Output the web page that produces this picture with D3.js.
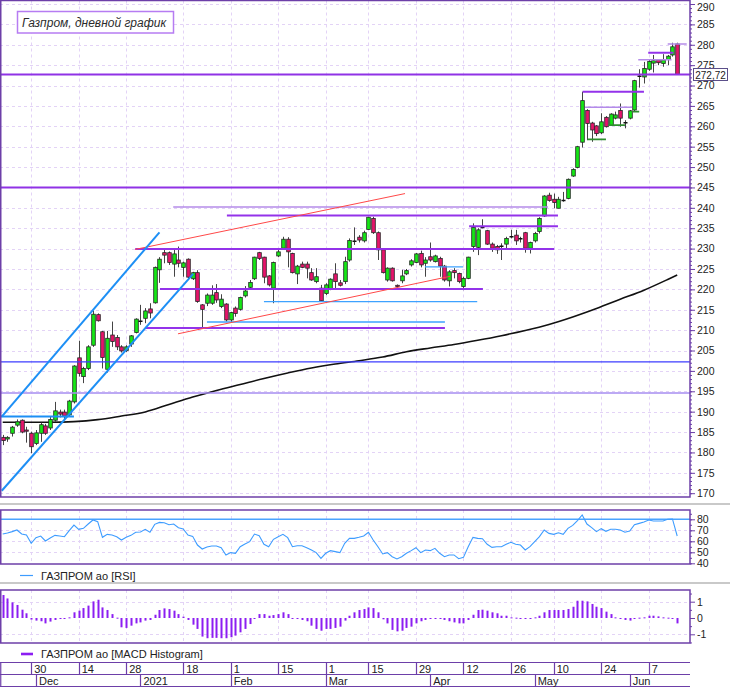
<!DOCTYPE html>
<html>
<head>
<meta charset="utf-8">
<script src="https://cdn.jsdelivr.net/npm/d3@7"></script>
<style>
body { margin: 0; background: #fff; }
svg { display: block; font-family: "Liberation Sans", Arial, sans-serif; font-size: 11px; }
</style>
</head>
<body>
<div id="chart"></div>
<script>
// --- data (one entry per trading day) ---
const opens = [183.7,183.3,184.7,186.7,187.9,185.5,184.7,182.2,184.7,186.5, 186.0,187.9,189.9,189.9,189.2,192.4,203.2,198.6,200.6,206.3,
  213.8,209.6,200.4,208.8,208.2,205.9,205.0,206.6,209.4,212.3, 212.9,215.2,216.7,224.8,229.0,229.0,226.2,227.2,225.4,227.4,
  222.6,224.1,216.2,216.6,216.6,219.2,215.8,216.4,212.5,215.4, 215.1,218.4,220.5,222.6,229.0,227.9,223.3,220.3,228.2,230.1,
  232.3,228.8,223.8,226.2,226.2,224.1,221.9,220.3,219.0,220.0, 223.8,221.6,221.9,227.2,231.9,232.8,231.9,234.7,237.4,233.9,
  229.7,222.3,225.2,221.0,222.1,223.8,226.0,226.6,228.8,226.4, 228.0,226.8,227.6,225.7,222.1,224.6,223.9,220.7,222.7,230.5,
  230.3,235.3,234.4,231.1,230.5,230.7,231.1,232.9,233.3,232.5, 233.9,230.1,231.9,234.2,238.0,243.1,242.1,239.9,241.7,242.3,
  247.8,249.9,256.1,263.9,260.8,260.1,258.4,262.2,260.2,262.0, 263.9,261.0,262.0,264.0,272.4,272.1,274.0,275.5,276.3,275.4,
  276.4,277.5,280.2]
const highs = [184.3,184.0,186.5,188.1,188.1,186.3,185.1,185.5,187.3,187.0, 188.8,192.4,190.5,190.5,192.9,201.4,207.4,201.0,206.3,214.8,
  214.1,209.8,209.8,212.1,208.8,206.3,206.3,208.8,212.9,216.2, 215.4,216.6,225.6,227.9,229.7,229.3,230.1,230.5,226.8,227.6,
  224.3,224.7,216.4,219.0,221.0,221.3,218.8,216.6,214.5,215.8, 218.2,220.8,222.3,228.0,229.2,228.0,223.5,226.8,229.7,232.9,
  232.8,229.0,226.0,226.8,226.8,225.2,225.2,221.1,221.5,222.7, 226.4,222.3,228.0,232.5,235.2,233.3,234.4,237.8,237.8,234.2,
  230.1,225.4,225.4,221.2,224.8,225.0,227.4,228.9,229.5,227.9, 231.5,228.5,228.0,226.0,224.7,225.2,224.1,223.1,228.0,236.2,
  235.0,237.2,234.6,231.5,230.9,231.3,232.9,234.6,234.6,232.9, 234.1,231.7,234.1,237.7,243.1,243.7,243.5,242.7,243.9,247.2,
  249.7,255.2,268.5,264.2,261.1,260.3,263.2,262.5,263.2,263.6, 265.6,261.5,264.0,271.4,274.0,275.8,276.4,277.5,276.4,277.7,
  277.5,280.5,280.5]
const lows = [181.8,182.6,183.9,186.3,184.7,182.4,179.8,181.8,182.6,184.3, 185.5,187.5,188.6,188.2,188.8,192.0,198.6,197.0,200.2,205.9,
  212.1,200.6,199.6,205.9,205.1,204.5,204.6,205.9,209.2,211.3, 211.7,212.9,216.5,221.6,226.4,226.0,223.1,225.4,223.1,222.3,
  222.3,216.7,210.4,215.9,216.2,216.7,215.4,212.1,211.8,213.3, 214.8,218.0,220.2,222.3,227.2,221.5,220.7,216.6,227.9,229.7,
  225.4,223.9,221.3,225.2,222.7,222.1,221.5,217.0,218.6,219.8, 220.3,220.7,221.3,226.8,230.9,231.5,231.5,234.6,233.6,227.2,
  223.9,221.9,221.9,220.4,221.5,223.5,225.6,226.4,225.4,223.1, 226.8,226.6,223.1,221.9,220.7,222.7,221.5,219.8,222.5,229.2,
  228.4,235.0,230.9,229.2,228.7,227.2,230.1,232.5,230.9,231.5, 229.0,228.8,231.5,233.7,237.8,241.5,239.9,239.9,241.5,242.1,
  247.6,249.7,254.8,256.6,256.2,257.6,258.1,259.7,260.1,261.7, 259.9,259.5,261.7,263.6,269.5,270.5,273.6,273.2,275.0,274.6,
  275.0,277.1,272.7]
const closes = [182.9,183.7,186.2,187.5,185.0,185.2,181.4,184.8,186.8,184.7, 188.1,190.2,189.4,188.9,192.6,201.2,199.4,200.6,205.9,213.9,
  212.3,203.3,208.0,207.2,205.9,204.9,205.9,208.6,212.7,212.2, 214.7,214.2,225.4,227.4,228.4,226.6,228.7,226.4,226.5,223.0,
  224.1,217.0,215.1,218.6,218.6,217.4,217.6,212.5,214.3,214.1, 218.0,219.6,221.7,227.9,227.6,223.0,221.1,226.6,229.2,232.3,
  229.2,224.1,225.7,225.4,225.2,222.3,223.1,217.2,221.1,222.5, 221.9,221.0,226.8,232.0,231.8,232.1,233.9,237.7,233.9,229.7,
  224.1,225.2,222.1,220.7,223.3,224.6,227.0,228.7,226.0,227.2, 227.2,228.2,225.7,222.3,224.3,224.1,221.9,222.7,227.9,235.2,
  234.6,235.2,231.1,230.1,229.7,230.6,232.5,232.9,231.9,232.4, 230.1,231.5,233.7,237.4,242.9,241.8,241.3,242.1,241.8,247.0,
  249.4,255.0,266.3,260.7,259.1,258.2,261.1,259.9,263.0,262.8, 262.0,260.9,263.8,271.2,272.3,274.2,275.9,276.1,275.6,276.3,
  277.2,279.5,272.72]

const rsi = [66.6,67.6,68.8,70.3,66.6,65.7,58.2,63.3,64.8,60.3, 63.0,65.4,64.8,64.2,69.7,74.8,70.9,71.8,75.7,79.4,
  77.9,63.6,66.3,65.7,64.2,61.2,63.6,65.4,68.2,68.5, 70.9,68.2,75.4,77.2,76.9,75.1,75.7,72.4,71.2,65.7,
  64.5,56.6,53.0,54.8,55.7,55.7,54.2,47.6,49.7,49.1, 55.1,57.6,59.7,66.6,65.1,57.3,55.1,61.8,64.2,66.3,
  63.3,55.1,56.0,56.0,54.2,52.1,49.7,44.5,49.1,51.5, 50.6,49.7,58.2,62.7,62.7,63.6,64.8,68.2,61.2,55.1,
  48.5,49.7,46.0,43.9,46.0,49.1,51.5,54.2,49.7,52.1, 51.5,53.6,49.1,46.0,47.6,47.6,44.2,45.4,55.1,63.6,
  62.7,62.4,57.3,54.5,55.1,55.1,57.3,59.1,57.3,56.6, 52.1,55.1,59.7,64.2,70.3,67.2,66.3,67.8,66.3,71.8,
  74.5,78.8,83.9,75.7,72.4,68.8,71.5,69.1,70.9,70.9, 70.3,68.2,69.4,75.1,76.3,77.5,79.4,78.5,78.5,78.5,
  80.0,80.3,64.8]
const macdHist = [1.41,1.2,0.96,0.8,0.51,0.29,-0.1,-0.16,-0.2,-0.33, -0.22,-0.12,-0.06,-0.06,0.04,0.35,0.45,0.61,0.76,1.02,
  1.12,0.65,0.49,0.24,0.02,-0.57,-0.61,-0.47,-0.33,-0.27, -0.16,-0.12,0.2,0.49,0.59,0.55,0.45,0.24,0.08,-0.12,
  -0.41,-0.67,-1.14,-1.24,-1.22,-1.22,-1.24,-1.24,-1.18,-1.08, -0.88,-0.67,-0.37,-0.06,0.24,0.24,0.14,0.18,0.24,0.35,
  0.24,-0.02,-0.06,-0.12,-0.2,-0.47,-0.67,-0.78,-0.67,-0.67, -0.61,-0.53,-0.16,0.14,0.35,0.49,0.55,0.65,0.61,0.35,
  -0.08,-0.33,-0.73,-0.82,-0.78,-0.61,-0.53,-0.33,-0.2,-0.12, -0.06,-0.01,-0.04,-0.12,-0.2,-0.27,-0.33,-0.33,-0.12,0.2,
  0.49,0.51,0.45,0.35,0.29,0.14,0.14,0.04,0.02,-0.04, -0.06,-0.04,0.04,0.14,0.35,0.49,0.49,0.49,0.49,0.55,
  0.69,1.06,1.06,1.02,0.86,0.69,0.61,0.39,0.24,0.04, -0.06,-0.12,-0.16,-0.06,0.02,0.04,0.14,0.14,0.1,0.04,
  0.02,-0.06,-0.33]

// moving average, read at every 5th day
const maIdx = [0,10,15,20,25,30,35,40,45,50,55,60,65,70,75,80,85,90,95,100,105,110,115,120,125,130,135,140,142]
const maVal = [187.4,187.4,187.55,188.04,188.94,189.93,191.77,193.6,195.2,196.67,198.14,199.49,200.72,201.7,202.5,203.4,
  204.69,205.62,206.48,207.51,208.64,209.92,211.39,213.23,215.31,217.57,219.8,222.43,223.53]

// date axis
const tickIdx = [6, 16, 26, 38, 48, 58, 68, 77, 87, 97, 107, 116, 126, 136]
const tickLabels = ["30", "14", "28", "18", "1", "15", "1", "15", "29", "12", "26", "10", "24", "7"]
const monthIdx = [7, 29, 48, 68, 90, 112, 132]
const monthLabels = ["Dec", "2021", "Feb", "Mar", "Apr", "May", "Jun"]

// drawn levels: [fromDay, toDay, price] and trend lines [fromDay, toDay, price1, price2]
const lastPrice = 272.72
const majorLevels = [272.72, 245]
const blueLevels = [202.2]
const paleLevels = [194.6]
const purpleSegs = [[27.9, 116.1, 229.9], [33.1, 101.1, 220.1], [30, 93.1, 210.5], [47.2, 116.9, 238.1],
  [98.2, 116.9, 235.5], [122.1, 135, 268.5], [135.9, 141.2, 278.05]]
const lightSegs = [[35.9, 114.8, 240.2], [122.6, 132.5, 264.7], [133.8, 140.8, 276.3], [140, 144, 280.2]]
const blueSegs = [[55, 99.9, 217.0], [43, 93.1, 212.0], [88.9, 96.9, 225.5]]
const greenSegs = [[123.1, 127, 256.8], [127.5, 131, 260.3], [132.7, 134, 263.6]]
const channelLines = [[-0.6, 15, 188.8, 188.8], [-0.2, 33, 188.8, 234.0], [-0.2, 40.1, 170.6, 223.8]]
const redTrends = [[27.9, 84.7, 229.8, 243.5], [36.9, 94.2, 209.1, 223.2]]

// --- layout ---
const W = 730, H = 689, plotRight = 690
const pricePane = {top: 0.5, bottom: 497}
const rsiPane = {top: 510, bottom: 564}
const macdPane = {top: 590, bottom: 643}
const border = "#6d3fa8"

const svg = d3.select("#chart")
    .append("svg")
    .attr("width", W)
    .attr("height", H)

const x = d3.scaleLinear().domain([0, 142]).range([2.7, 677.2])
const y = d3.scaleLinear().domain([170, 290]).range([493.2, 4])
const yRsi = d3.scaleLinear().domain([40, 80]).range([563.3, 519.3])
const yMacd = d3.scaleLinear().domain([-1, 1]).range([634.3, 601.7])

function clip(id, pane) {
    svg.append("clipPath").attr("id", id)
        .append("rect")
        .attr("x", 0.5).attr("y", pane.top)
        .attr("width", plotRight - 0.5).attr("height", pane.bottom - pane.top)
}
clip("clipPrice", pricePane)
clip("clipRsi", rsiPane)
clip("clipMacd", macdPane)

function grid(pane, scale, values) {
    const g = svg.append("g")
        .attr("stroke", "#e3d3f6")
        .attr("stroke-dasharray", "3,3")
    g.selectAll(".vg").data(tickIdx).join("line").attr("class", "vg")
        .attr("x1", d => Math.round(x(d)) + 0.5).attr("x2", d => Math.round(x(d)) + 0.5)
        .attr("y1", pane.top).attr("y2", pane.bottom)
    g.selectAll(".hg").data(values).join("line").attr("class", "hg")
        .attr("x1", 0).attr("x2", plotRight)
        .attr("y1", d => Math.round(scale(d)) + 0.5).attr("y2", d => Math.round(scale(d)) + 0.5)
}
grid(pricePane, y, d3.range(170, 291, 5))
grid(rsiPane, yRsi, [50, 60, 70])
grid(macdPane, yMacd, [-1, 1])

// --- price pane ---
const price = svg.append("g").attr("clip-path", "url(#clipPrice)")

price.append("path")
    .datum(maIdx.map((d, i) => [d, maVal[i]]))
    .attr("fill", "none")
    .attr("stroke", "#111")
    .attr("stroke-width", 1.6)
    .attr("d", d3.line().x(d => x(d[0])).y(d => y(d[1])).curve(d3.curveMonotoneX))

const candles = opens.map((o, i) => ({i, o, h: highs[i], l: lows[i], c: closes[i]}))

price.selectAll(".wick").data(candles).join("line").attr("class", "wick")
    .attr("x1", d => Math.round(x(d.i)) + 0.5).attr("x2", d => Math.round(x(d.i)) + 0.5)
    .attr("y1", d => y(d.h)).attr("y2", d => y(d.l))
    .attr("stroke", "#444")

price.selectAll(".body").data(candles.filter(d => Math.abs(d.o - d.c) >= 0.2)).join("rect").attr("class", "body")
    .attr("x", d => Math.round(x(d.i)) - 1.3)
    .attr("width", 3.6)
    .attr("y", d => y(Math.max(d.o, d.c)))
    .attr("height", d => Math.abs(y(d.o) - y(d.c)))
    .attr("fill", d => d.c > d.o ? "#16e616" : "#e5156b")
    .attr("stroke", "#262626")
    .attr("stroke-width", 0.8)

price.selectAll(".doji").data(candles.filter(d => Math.abs(d.o - d.c) < 0.2)).join("line").attr("class", "doji")
    .attr("x1", d => Math.round(x(d.i)) - 1.5).attr("x2", d => Math.round(x(d.i)) + 2.5)
    .attr("y1", d => y(d.c)).attr("y2", d => y(d.c))
    .attr("stroke", "#111").attr("stroke-width", 1.5)

function fullLines(values, color, width) {
    price.selectAll(null).data(values).join("line")
        .attr("x1", 0).attr("x2", plotRight)
        .attr("y1", d => y(d)).attr("y2", d => y(d))
        .attr("stroke", color).attr("stroke-width", width)
}
function segments(values, color, width) {
    price.selectAll(null).data(values).join("line")
        .attr("x1", d => x(d[0])).attr("x2", d => x(d[1]))
        .attr("y1", d => y(d[2])).attr("y2", d => y(d.length > 3 ? d[3] : d[2]))
        .attr("stroke", color).attr("stroke-width", width)
}
fullLines(paleLevels, "#a68cf0", 1.5)
fullLines(blueLevels, "#3c3cff", 1.2)
fullLines(majorLevels, "#9032e6", 2)
segments(lightSegs, "#b48be9", 1.5)
segments(purpleSegs, "#9332ea", 2)
segments(blueSegs, "#3ea2ff", 1.3)
segments(greenSegs, "#2e8f2e", 1.8)
segments(redTrends, "#ff4848", 1)
segments(channelLines, "#1d8ff5", 2)

// --- rsi pane ---
const rsiG = svg.append("g").attr("clip-path", "url(#clipRsi)")
rsiG.append("line")
    .attr("x1", 0).attr("x2", plotRight)
    .attr("y1", yRsi(80)).attr("y2", yRsi(80))
    .attr("stroke", "#4aa3ff").attr("stroke-width", 1.6)
rsiG.append("path")
    .datum(rsi)
    .attr("fill", "none")
    .attr("stroke", "#3d9cff")
    .attr("stroke-width", 1.1)
    .attr("d", d3.line().x((d, i) => x(i)).y(d => yRsi(d)))

// --- macd pane ---
svg.append("g").attr("clip-path", "url(#clipMacd)")
    .selectAll("rect").data(macdHist).join("rect")
    .attr("x", (d, i) => Math.round(x(i)) - 0.5)
    .attr("width", 2)
    .attr("y", d => Math.min(yMacd(d), yMacd(0)))
    .attr("height", d => Math.max(1, Math.abs(yMacd(d) - yMacd(0))))
    .attr("fill", "#8c1ef2")

// --- pane borders and separators ---
;[pricePane, rsiPane, macdPane].forEach(p => {
    svg.append("rect")
        .attr("x", 0.75).attr("y", p.top)
        .attr("width", plotRight - 0.75).attr("height", p.bottom - p.top)
        .attr("fill", "none").attr("stroke", border).attr("stroke-width", 1.5)
})
;[504, 583].forEach(v => {
    svg.append("line").attr("x1", 0).attr("x2", W).attr("y1", v).attr("y2", v)
        .attr("stroke", "#c9c9c9").attr("stroke-width", 2)
})

// --- right axes ---
function rightAxis(scale, major, minor, fmt) {
    svg.append("g")
        .attr("transform", `translate(${plotRight},0)`)
        .call(d3.axisRight(scale).tickValues(minor).tickSize(2).tickFormat(""))
        .call(g => g.select(".domain").remove())
        .call(g => g.selectAll("line").attr("stroke", border))
    return svg.append("g")
        .attr("transform", `translate(${plotRight},0)`)
        .call(d3.axisRight(scale).tickValues(major).tickSize(5).tickPadding(2).tickFormat(fmt))
        .call(g => g.select(".domain").remove())
        .call(g => g.selectAll("line").attr("stroke", border))
        .call(g => g.selectAll("text").attr("fill", "#222"))
        .attr("font-size", 10.5)
        .attr("font-family", "Liberation Sans, Arial, sans-serif")
}
const priceAxis = rightAxis(y, d3.range(170, 291, 5), d3.range(170, 291, 1), d => String(d))
// keep the top label inside the picture
priceAxis.selectAll("text").filter(d => d === 290).attr("dy", "0.6em")
rightAxis(yRsi, [40, 50, 60, 70, 80], d3.range(40, 86, 5), d => String(d))
rightAxis(yMacd, [-1, 0, 1], [-1.5, -0.5, 0.5, 1.5], d => String(d))

// last price badge
const badge = svg.append("g")
badge.append("rect")
    .attr("x", 693.5).attr("y", Math.round(y(lastPrice)) - 5.5)
    .attr("width", 34).attr("height", 12)
    .attr("fill", "#fff").attr("stroke", "#5b4f8a")
badge.append("text")
    .attr("x", 710.5).attr("y", y(lastPrice) + 4.5)
    .attr("text-anchor", "middle").attr("fill", "#222")
    .attr("font-size", 10)
    .text(String(lastPrice).replace(".", ","))

// --- title ---
svg.append("rect")
    .attr("x", 17.5).attr("y", 11.5).attr("width", 156).attr("height", 21.5)
    .attr("fill", "#fff").attr("stroke", "#b67cf2").attr("stroke-width", 1.5)
svg.append("text")
    .attr("x", 22).attr("y", 27)
    .attr("font-size", 12).attr("font-style", "italic").attr("fill", "#2b2b2b")
    .text("Газпром, дневной график")

// --- legends ---
svg.append("line").attr("x1", 20).attr("x2", 33).attr("y1", 575.5).attr("y2", 575.5)
    .attr("stroke", "#3d9cff").attr("stroke-width", 1.2)
svg.append("text").attr("x", 41).attr("y", 579.5).attr("fill", "#222")
    .text("ГАЗПРОМ ао [RSI]")
svg.append("line").attr("x1", 21).attr("x2", 33).attr("y1", 654).attr("y2", 654)
    .attr("stroke", "#8c1ef2").attr("stroke-width", 2.6)
svg.append("text").attr("x", 41).attr("y", 658).attr("fill", "#222")
    .text("ГАЗПРОМ ао [MACD Histogram]")

// --- date axis ---
const axisG = svg.append("g").attr("stroke", border).attr("stroke-width", 1.2)
;[662.5, 674.5, 686.5].forEach(v => {
    axisG.append("line").attr("x1", 0).attr("x2", plotRight).attr("y1", v).attr("y2", v)
})
axisG.append("line").attr("x1", 0.75).attr("x2", 0.75).attr("y1", 662).attr("y2", 687)
axisG.selectAll(".wk").data(tickIdx).join("line").attr("class", "wk")
    .attr("x1", d => Math.round(x(d)) + 0.5).attr("x2", d => Math.round(x(d)) + 0.5)
    .attr("y1", 662).attr("y2", 674.5)
axisG.selectAll(".mo").data(monthIdx).join("line").attr("class", "mo")
    .attr("x1", d => Math.round(x(d)) + 0.5).attr("x2", d => Math.round(x(d)) + 0.5)
    .attr("y1", 674.5).attr("y2", 687)

svg.selectAll(".wkText").data(tickIdx).join("text").attr("class", "wkText")
    .attr("x", d => x(d) + 3).attr("y", 672.5).attr("fill", "#222")
    .text((d, i) => tickLabels[i])
svg.selectAll(".moText").data(monthIdx).join("text").attr("class", "moText")
    .attr("x", d => x(d) + 3).attr("y", 685).attr("fill", "#222")
    .text((d, i) => monthLabels[i])
</script>
</body>
</html>
